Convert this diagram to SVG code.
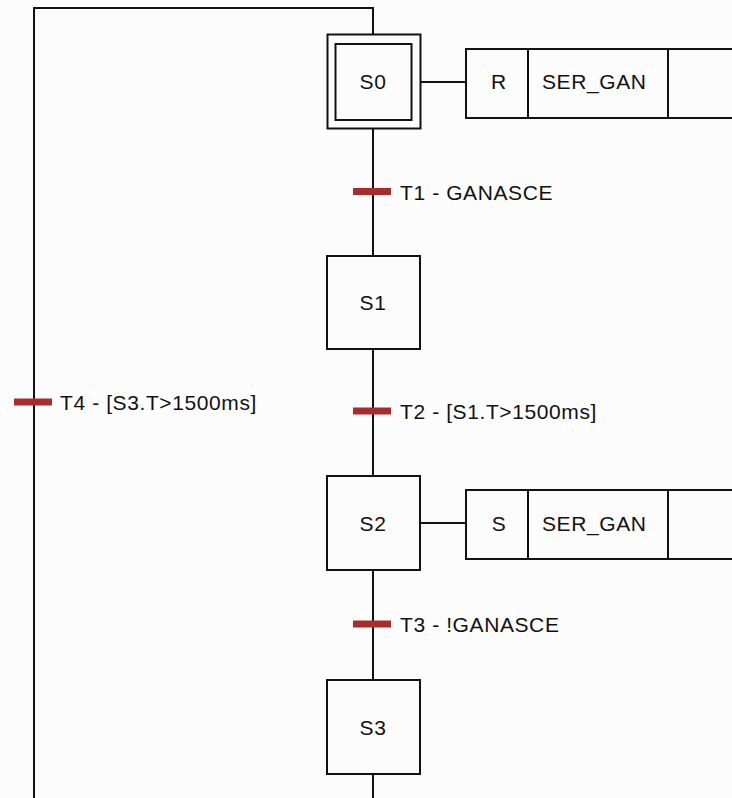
<svg xmlns="http://www.w3.org/2000/svg" width="732" height="798" viewBox="0 0 732 798">
<style>
.ln{fill:none;stroke:#111;stroke-width:2}
.box{fill:#fcfcfc;stroke:#111;stroke-width:2}
.bar{stroke:#a82c2c;stroke-width:7}
text{font-family:"Liberation Sans",Arial,sans-serif;font-size:21px;fill:#111;letter-spacing:0.6px}
.c{text-anchor:middle}
</style>
<rect x="0" y="0" width="732" height="798" fill="#fcfcfc"/>
<g id="connectors">
<path class="ln" d="M34,798 V8 H373 V34"/>
<path class="ln" d="M373,129 V256"/>
<path class="ln" d="M373,349 V476"/>
<path class="ln" d="M373,570 V680"/>
<path class="ln" d="M373,774 V798"/>
<path class="ln" d="M421,82 H466"/>
<path class="ln" d="M420,523 H466"/>
</g>
<g id="T1"><line class="bar" x1="353" y1="191.5" x2="391" y2="191.5"/><text x="400" y="199.5">T1 - GANASCE</text></g>
<g id="T2"><line class="bar" x1="353" y1="411" x2="391" y2="411"/><text x="400" y="418.5">T2 - [S1.T&gt;1500ms]</text></g>
<g id="T3"><line class="bar" x1="353" y1="624" x2="391" y2="624"/><text x="400" y="631.5">T3 - !GANASCE</text></g>
<g id="T4"><line class="bar" x1="14" y1="402" x2="52" y2="402"/><text x="60" y="409.5">T4 - [S3.T&gt;1500ms]</text></g>
<g id="S0">
<rect class="box" x="327.5" y="34.5" width="93" height="94"/>
<rect class="box" x="335.5" y="44" width="76" height="76"/>
<text class="c" x="373" y="89">S0</text>
</g>
<g id="A0">
<rect class="box" x="466" y="49" width="280" height="69"/>
<path class="ln" d="M528,49 V118 M668,49 V118"/>
<text class="c" x="499" y="89">R</text>
<text x="542" y="89">SER_GAN</text>
</g>
<g id="S1"><rect class="box" x="327" y="256" width="93" height="93"/><text class="c" x="373" y="310">S1</text></g>
<g id="S2"><rect class="box" x="327" y="476" width="93" height="94"/><text class="c" x="373" y="530.5">S2</text></g>
<g id="A2">
<rect class="box" x="466" y="490" width="280" height="69"/>
<path class="ln" d="M528,490 V559 M668,490 V559"/>
<text class="c" x="499" y="530.5">S</text>
<text x="542" y="530.5">SER_GAN</text>
</g>
<g id="S3"><rect class="box" x="327" y="680" width="93" height="94"/><text class="c" x="373" y="734.5">S3</text></g>
</svg>
